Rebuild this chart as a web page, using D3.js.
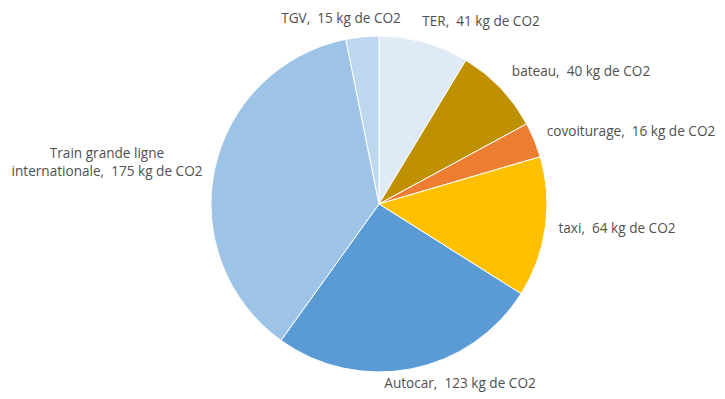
<!DOCTYPE html>
<html>
<head>
<meta charset="utf-8">
<script src="https://cdn.jsdelivr.net/npm/d3@7"></script>
<style>
  body { margin: 0; background: #fff; }
  text { font-family: "Open Sans", sans-serif; font-size: 13.6px; fill: #505050; white-space: pre; }
</style>
</head>
<body>
<script>
// transport modes and their CO2 (kg), clockwise from 12 o'clock
let modes = ['TER', 'bateau', 'covoiturage', 'taxi', 'Autocar', 'Train grande ligne internationale', 'TGV']
let co2 = [41, 40, 16, 64, 123, 175, 15]
let colors = ['#deebf7', '#bf9000', '#ed7d31', '#ffc000', '#5b9bd5', '#9dc3e6', '#bdd7ee']

// label centers relative to pie center (Excel "best fit" spots)
let labelOffsets = {
  'TER': [102, -183],
  'bateau': [202, -133],
  'covoiturage': [252, -73],
  'taxi': [238, 24],
  'Autocar': [81, 179],
  'Train grande ligne internationale': [-272, -42],
  'TGV': [-38, -186]
}

let width = 725, height = 399
let cx = 379, cy = 204, radius = 168

let data = modes.map((m, i) => ({ mode: m, value: co2[i], color: colors[i] }))

let svg = d3.select('body').append('svg')
  .attr('width', width)
  .attr('height', height)

let pie = d3.pie().sort(null).value(d => d.value)
let arc = d3.arc().innerRadius(0).outerRadius(radius)

let g = svg.append('g').attr('transform', `translate(${cx},${cy})`)

g.selectAll('path')
  .data(pie(data))
  .enter()
  .append('path')
  .attr('d', arc)
  .attr('fill', d => d.data.color)
  .attr('stroke', '#fff')
  .attr('stroke-width', 1)

// labels
g.selectAll('text.lbl')
  .data(pie(data))
  .enter()
  .append('text')
  .attr('class', 'lbl')
  .attr('text-anchor', 'middle')
  .attr('transform', d => {
    let o = labelOffsets[d.data.mode]
    return `translate(${o[0]},${o[1]})`
  })
  .each(function (d) {
    let t = d3.select(this)
    let valueText = d.data.value + ' kg de CO2'
    if (d.data.mode === 'Train grande ligne internationale') {
      t.append('tspan').attr('x', 0).attr('dy', '-0.3em').text('Train grande ligne')
      t.append('tspan').attr('x', 0).attr('dy', '1.35em').text('internationale,  ' + valueText)
    } else {
      t.append('tspan').attr('x', 0).attr('dy', '0.35em').text(d.data.mode + ',  ' + valueText)
    }
  })
</script>
</body>
</html>
